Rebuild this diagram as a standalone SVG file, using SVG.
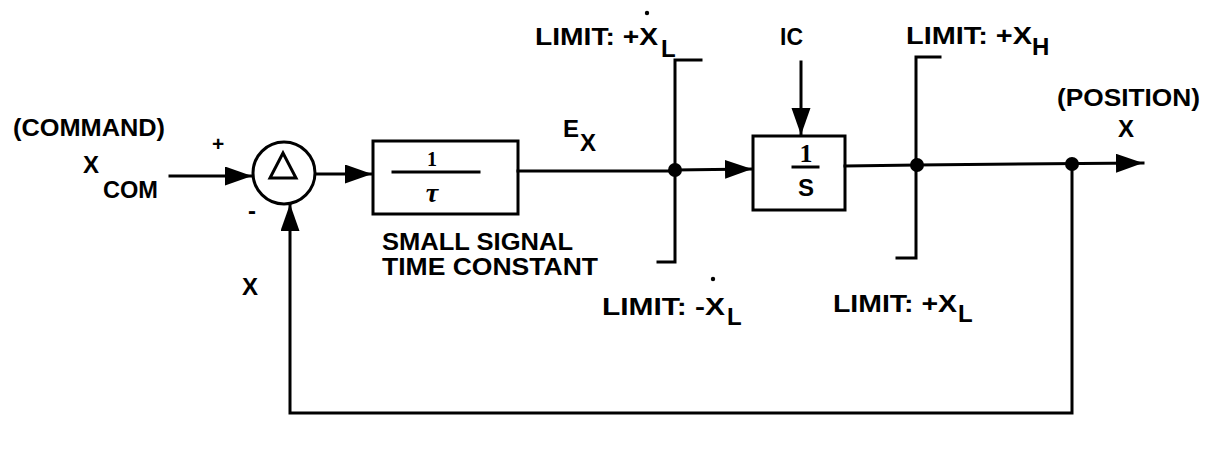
<svg xmlns="http://www.w3.org/2000/svg" width="1211" height="450" viewBox="0 0 1211 450">
<style>
.ln{fill:none;stroke:#000;stroke-width:3;stroke-linecap:square;stroke-linejoin:miter}
.t{font-family:"Liberation Sans",Arial,sans-serif;font-size:24px;font-weight:bold;fill:#000}
.s{font-family:"Liberation Sans",Arial,sans-serif;font-size:21px;font-weight:bold;fill:#000}
.dot{fill:#000}
</style>
<defs>
<marker id="ah" markerUnits="userSpaceOnUse" markerWidth="28" markerHeight="20" refX="27" refY="9.5" orient="auto">
<path d="M0,0 L27,9.5 L0,19 z" fill="#000"/>
</marker>
</defs>
<rect width="1211" height="450" fill="#fff"/>
<g id="connectors">
<line class="ln" x1="170" y1="176" x2="252" y2="176" marker-end="url(#ah)"/>
<line class="ln" x1="316" y1="174" x2="372" y2="174" marker-end="url(#ah)"/>
<line class="ln" x1="518" y1="171" x2="675" y2="171"/>
<line class="ln" x1="675" y1="170" x2="752" y2="169" marker-end="url(#ah)"/>
<line class="ln" x1="801" y1="62" x2="801" y2="135" marker-end="url(#ah)"/>
<line class="ln" x1="845" y1="166" x2="917" y2="165"/>
<line class="ln" x1="917" y1="165" x2="1143" y2="163" marker-end="url(#ah)"/>
<path class="ln" d="M1072,164 V413 H290 V204" marker-end="url(#ah)"/>
</g>
<g id="sum">
<circle class="ln" cx="284" cy="173" r="31"/>
<path class="ln" d="M283,153 L270,178 L296,178 Z"/>
<text class="s" x="212" y="151">+</text>
<text class="t" x="248" y="219">-</text>
</g>
<g id="input-label">
<text class="t" x="13" y="136" textLength="152" lengthAdjust="spacingAndGlyphs">(COMMAND)</text>
<text class="t" x="83" y="173">X</text>
<text class="t" x="103" y="198" textLength="55" lengthAdjust="spacingAndGlyphs">COM</text>
</g>
<g id="feedback-label">
<text class="t" x="242" y="295">X</text>
</g>
<g id="time-constant">
<rect class="ln" x="373" y="141" width="145" height="73"/>
<text x="432" y="166" text-anchor="middle" font-family="'Liberation Serif',serif" font-weight="bold" font-size="20">1</text>
<line class="ln" x1="393" y1="172" x2="479" y2="172"/>
<text x="432" y="202" text-anchor="middle" font-family="'Liberation Serif',serif" font-style="italic" font-weight="bold" font-size="28">τ</text>
<text class="t" x="382" y="250" textLength="191" lengthAdjust="spacingAndGlyphs">SMALL SIGNAL</text>
<text class="t" x="382" y="275" textLength="216" lengthAdjust="spacingAndGlyphs">TIME CONSTANT</text>
</g>
<g id="ex-label">
<text class="t" x="563" y="137">E</text>
<text class="t" x="580" y="151">X</text>
</g>
<g id="rate-limiter">
<circle class="dot" cx="675" cy="170" r="7"/>
<path class="ln" d="M701,60 H675 V262 H658"/>
<text class="t" x="535" y="45" textLength="123" lengthAdjust="spacingAndGlyphs">LIMIT: +X</text>
<circle class="dot" cx="647" cy="13" r="2.2"/>
<text class="t" x="661" y="57">L</text>
<text class="t" x="602" y="315" textLength="123" lengthAdjust="spacingAndGlyphs">LIMIT: -X</text>
<circle class="dot" cx="713" cy="279" r="2.2"/>
<text class="t" x="727" y="325">L</text>
</g>
<g id="integrator">
<rect class="ln" x="753" y="136" width="92" height="74"/>
<text x="806" y="162" text-anchor="middle" font-family="'Liberation Serif',serif" font-weight="bold" font-size="26">1</text>
<line class="ln" x1="793" y1="167" x2="818" y2="167"/>
<text class="t" x="806" y="196" text-anchor="middle" font-size="26" font-weight="normal">S</text>
<text class="t" x="780" y="45" textLength="23" lengthAdjust="spacingAndGlyphs">IC</text>
</g>
<g id="position-limiter">
<circle class="dot" cx="917" cy="165" r="7"/>
<path class="ln" d="M940,57 H916 V258 H897"/>
<text class="t" x="906" y="44" textLength="126" lengthAdjust="spacingAndGlyphs">LIMIT: +X</text>
<text class="t" x="1032" y="55">H</text>
<text class="t" x="833" y="312" textLength="124" lengthAdjust="spacingAndGlyphs">LIMIT: +X</text>
<text class="t" x="958" y="322">L</text>
</g>
<g id="output">
<circle class="dot" cx="1072" cy="164" r="7"/>
<text class="t" x="1057" y="106" textLength="143" lengthAdjust="spacingAndGlyphs">(POSITION)</text>
<text class="t" x="1118" y="137">X</text>
</g>
</svg>
